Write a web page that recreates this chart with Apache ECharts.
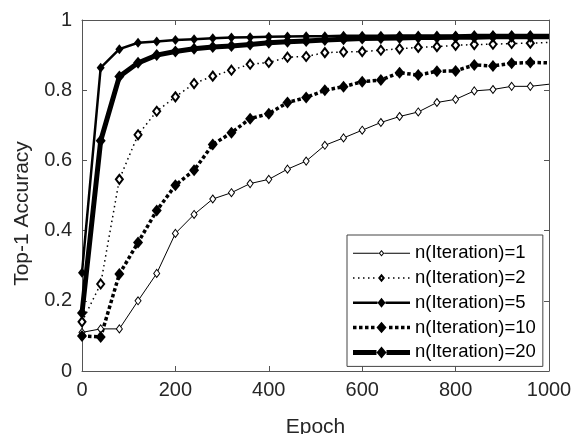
<!DOCTYPE html>
<html>
<head>
<meta charset="utf-8">
<script src="https://cdn.jsdelivr.net/npm/echarts@6/dist/echarts.min.js"></script>
<style>
  html, body { margin: 0; padding: 0; background: #fff; }
  #chart { width: 580px; height: 434px; }
</style>
</head>
<body>
<div id="chart"></div>
<script>
// Training epochs at which accuracy was evaluated
const epochs = [0, 40, 80, 120, 160, 200, 240, 280, 320, 360, 400, 440, 480,
                520, 560, 600, 640, 680, 720, 760, 800, 840, 880, 920, 960, 1000];

// Top-1 accuracy for each number of iterations
const accIter1 = [0.11, 0.12, 0.12, 0.20, 0.278, 0.392, 0.446, 0.490, 0.508, 0.534, 0.546, 0.575, 0.598,
                  0.643, 0.664, 0.686, 0.708, 0.725, 0.738, 0.765, 0.774, 0.798, 0.802, 0.811, 0.811, 0.817];
const accIter2 = [0.14, 0.248, 0.546, 0.673, 0.740, 0.781, 0.819, 0.840, 0.857, 0.874, 0.879, 0.894, 0.896,
                  0.907, 0.909, 0.910, 0.914, 0.918, 0.922, 0.924, 0.928, 0.930, 0.931, 0.933, 0.934, 0.936];
const accIter5 = [0.28, 0.864, 0.917, 0.935, 0.939, 0.943, 0.945, 0.948, 0.950, 0.951, 0.952, 0.953, 0.954,
                  0.954, 0.955, 0.955, 0.955, 0.956, 0.956, 0.956, 0.956, 0.957, 0.957, 0.957, 0.957, 0.957];
const accIter10 = [0.10, 0.097, 0.276, 0.366, 0.457, 0.529, 0.572, 0.645, 0.679, 0.719, 0.733, 0.765, 0.779,
                   0.800, 0.810, 0.824, 0.829, 0.850, 0.843, 0.854, 0.855, 0.872, 0.869, 0.877, 0.879, 0.878];
const accIter20 = [0.165, 0.656, 0.839, 0.878, 0.900, 0.910, 0.918, 0.923, 0.926, 0.930, 0.935, 0.938, 0.940,
                   0.943, 0.945, 0.947, 0.948, 0.949, 0.950, 0.950, 0.951, 0.951, 0.952, 0.952, 0.952, 0.952];

const seriesNames = ['n(Iteration)=1', 'n(Iteration)=2', 'n(Iteration)=5', 'n(Iteration)=10', 'n(Iteration)=20'];

const FONT = 'Liberation Sans, Arial, Helvetica, sans-serif';
const TEXT = '#262626';
const AXIS = '#555';

// Line and marker look of each curve
const styles = [
  { width: 1,   dash: null,       marker: [6, 8],   hollow: true,  border: 1,  legendMarker: [5.5, 6.5] },
  { width: 1.5, dash: [1.5, 3.5], marker: [7, 9],   hollow: true,  border: 2,  legendMarker: [7, 8.5] },
  { width: 2.5, dash: null,       marker: [8, 10],  hollow: false, border: 0,  legendMarker: [8, 10] },
  { width: 3.5, dash: [3.5, 2.5], marker: [10, 12], hollow: false, border: 0,  legendMarker: [10, 11.5] },
  { width: 5,   dash: null,       marker: [10, 12], hollow: false, border: 0,  legendMarker: [10, 12] }
];

// Pair epochs with values; the point on the right border carries no marker
function toPoints(values) {
  return epochs.map((e, i) => {
    const p = { value: [e, values[i]] };
    if (i === epochs.length - 1) p.symbol = 'none';
    return p;
  });
}

function lineSeries(name, values, st) {
  return {
    name: name,
    type: 'line',
    data: toPoints(values),
    symbol: 'diamond',
    symbolSize: st.marker,
    showAllSymbol: true,
    clip: true,
    lineStyle: { color: '#000', width: st.width, type: st.dash || 'solid', cap: 'butt', join: 'miter' },
    itemStyle: st.hollow
      ? { color: '#fff', borderColor: '#000', borderWidth: st.border }
      : { color: '#000', borderColor: '#000', borderWidth: 0 },
    emphasis: { disabled: true },
    animation: false
  };
}

// Legend glyph: line sample (solid or dotted) with a diamond in the middle, as one filled path
const ICON_W = 57, ICON_H = 14;
function legendIcon(st) {
  const cy = ICON_H / 2, cx = ICON_W / 2;
  const a = st.legendMarker[0] / 2, c = st.legendMarker[1] / 2;
  const hw = st.width / 2;
  const parts = [];
  // zero-size anchors keep the glyph box at exactly ICON_W x ICON_H
  parts.push('M0,0 L0,0 Z', 'M' + ICON_W + ',' + ICON_H + ' L' + ICON_W + ',' + ICON_H + ' Z');
  const rect = (x0, x1) => {
    if (x1 <= x0) return;
    parts.push('M' + x0 + ',' + (cy - hw) + ' L' + x1 + ',' + (cy - hw) + ' L' + x1 + ',' + (cy + hw) +
               ' L' + x0 + ',' + (cy + hw) + ' Z');
  };
  const gapL = cx - a, gapR = cx + a;
  if (!st.dash) {
    rect(0, gapL);
    rect(gapR, ICON_W);
  } else {
    const on = st.dash[0], off = st.dash[1];
    for (let x = 0; x < ICON_W; x += on + off) {
      const x1 = Math.min(x + on, ICON_W);
      if (x1 <= gapL || x >= gapR) rect(x, x1);
    }
  }
  // diamond outline
  parts.push('M' + cx + ',' + (cy - c) + ' L' + (cx + a) + ',' + cy + ' L' + cx + ',' + (cy + c) +
             ' L' + (cx - a) + ',' + cy + ' Z');
  if (st.hollow) {
    const h = Math.sqrt(a * a + c * c);
    const ai = a - st.border * h / c, ci = c - st.border * h / a;
    parts.push('M' + cx + ',' + (cy - ci) + ' L' + (cx - ai) + ',' + cy + ' L' + cx + ',' + (cy + ci) +
               ' L' + (cx + ai) + ',' + cy + ' Z');
  }
  return 'path://' + parts.join(' ');
}

const axisCommon = {
  type: 'value',
  axisLine: { show: true, onZero: false, lineStyle: { color: AXIS, width: 1 } },
  axisTick: { show: true, inside: true, length: 5, lineStyle: { color: AXIS, width: 1 } },
  splitLine: { show: false }
};

const chart = echarts.init(document.getElementById('chart'), null, { renderer: 'canvas' });

chart.setOption({
  backgroundColor: '#fff',
  textStyle: { fontFamily: FONT },
  grid: { left: 82, right: 31, top: 20, bottom: 63, outerBoundsMode: 'none', containLabel: false },
  xAxis: [
    Object.assign({}, axisCommon, {
      position: 'bottom', min: 0, max: 1000, interval: 200,
      axisLabel: { fontSize: 20, color: TEXT, margin: 9, fontFamily: FONT, formatter: v => String(v) },
      name: 'Epoch', nameLocation: 'middle', nameGap: 46,
      nameTextStyle: { fontSize: 21, color: TEXT, fontFamily: FONT }
    }),
    Object.assign({}, axisCommon, {
      position: 'top', min: 0, max: 1000, interval: 200,
      axisLabel: { show: false }
    })
  ],
  yAxis: [
    Object.assign({}, axisCommon, {
      position: 'left', min: 0, max: 1, interval: 0.2,
      axisLabel: { fontSize: 20, color: TEXT, margin: 10, fontFamily: FONT, formatter: v => String(v) },
      name: 'Top-1 Accuracy', nameLocation: 'middle', nameGap: 49,
      nameTextStyle: { fontSize: 21, color: TEXT, fontFamily: FONT, padding: [0, 36, 0, 0] }
    }),
    Object.assign({}, axisCommon, {
      position: 'right', min: 0, max: 1, interval: 0.2,
      axisLabel: { show: false }
    })
  ],
  legend: {
    orient: 'vertical',
    left: 347,
    top: 235,
    data: seriesNames.map((n, i) => ({
      name: n,
      icon: legendIcon(styles[i]),
      itemStyle: { color: '#000', borderWidth: 0 }
    })),
    itemWidth: ICON_W,
    itemHeight: ICON_H,
    itemGap: 5.8,
    padding: [8.7, 7, 4.5, 6],
    backgroundColor: '#fff',
    borderColor: '#444',
    borderWidth: 1,
    borderRadius: 0,
    selectedMode: false,
    textStyle: { fontSize: 18.5, color: '#000', fontFamily: FONT }
  },
  series: seriesNames.map((n, i) =>
    lineSeries(n, [accIter1, accIter2, accIter5, accIter10, accIter20][i], styles[i]))
});
</script>
</body>
</html>
